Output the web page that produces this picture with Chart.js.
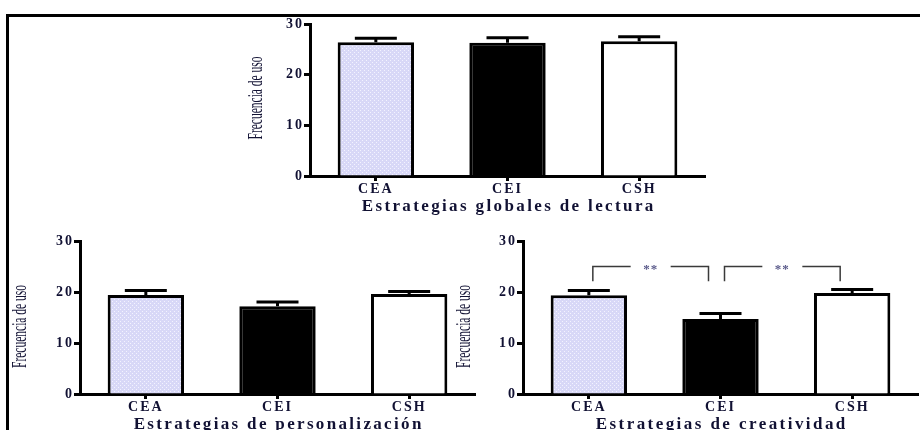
<!DOCTYPE html>
<html>
<head>
<meta charset="utf-8">
<script src="https://cdn.jsdelivr.net/npm/chart.js@4.4.1/dist/chart.umd.min.js"></script>
<style>
html, body { margin: 0; padding: 0; background: #fff; width: 920px; height: 430px; overflow: hidden; }
#frame { position: absolute; left: 6px; top: 14px; width: 920px; height: 430px; border-top: 3px solid #000; border-left: 3px solid #000; }
canvas { position: absolute; }
</style>
</head>
<body>
<div id="frame"></div>
<canvas id="globales" width="470" height="211" style="left:240px;top:14px"></canvas>
<canvas id="personal" width="480" height="205" style="left:0px;top:225px"></canvas>
<canvas id="creatividad" width="470" height="205" style="left:450px;top:225px"></canvas>
<script>
// data (mean and upper SEM)
const categories = ['CEA', 'CEI', 'CSH'];
const yTicks = [0, 10, 20, 30];

const globalesMeans = [26.4, 26.3, 26.6];
const globalesSem = [0.8, 1.0, 0.9];

const personalMeans = [19.4, 17.2, 19.6];
const personalSem = [0.9, 0.85, 0.5];

const creatividadMeans = [19.35, 14.7, 19.8];
const creatividadSem = [0.95, 1.1, 0.7];

// significance brackets: [from, to, label, line value, leg end value]
const creatividadSig = [[0, 1, '**', 25, 22.1], [1, 2, '**', 25, 22.1]];

const ink = '#111133';

function dots() {
	const c = document.createElement('canvas');
	c.width = 4; c.height = 4;
	const g = c.getContext('2d');
	g.fillStyle = '#d8d8f7';
	g.fillRect(0, 0, 4, 4);
	g.fillStyle = '#f3f3ff';
	g.fillRect(0, 0, 1, 1);
	g.fillRect(2, 2, 1, 1);
	return g.createPattern(c, 'repeat');
}

const panel = {
	id: 'panel',
	beforeDraw(chart) {
		chart.ctx.letterSpacing = '2px';
	},
	afterDatasetsDraw(chart) {
		// upper error bars
		const ctx = chart.ctx;
		const ds = chart.data.datasets[0];
		const y = chart.scales.y;
		ctx.save();
		ctx.strokeStyle = '#000';
		ctx.lineWidth = 3;
		chart.getDatasetMeta(0).data.forEach((bar, i) => {
			const top = y.getPixelForValue(ds.data[i] + ds.sem[i]);
			ctx.beginPath();
			ctx.moveTo(bar.x, bar.y);
			ctx.lineTo(bar.x, top);
			ctx.moveTo(bar.x - 21, top);
			ctx.lineTo(bar.x + 21, top);
			ctx.stroke();
		});
		ctx.restore();
	},
	afterDraw(chart, args, opts) {
		const ctx = chart.ctx;
		const area = chart.chartArea;
		const x = chart.scales.x;
		const y = chart.scales.y;
		ctx.save();
		ctx.fillStyle = ink;

		// y title, condensed
		ctx.letterSpacing = '0px';
		ctx.font = '22px "Liberation Serif"';
		const yw = ctx.measureText(opts.yTitle).width;
		ctx.save();
		ctx.translate(opts.yTitleX, (area.top + area.bottom) / 2 + opts.yTitleDy);
		ctx.rotate(-Math.PI / 2);
		ctx.scale(83 / yw, 1);
		ctx.textAlign = 'center';
		ctx.textBaseline = 'middle';
		ctx.fillText(opts.yTitle, 0, 0);
		ctx.restore();

		// x title, letter spaced
		ctx.font = 'bold 17px "Liberation Serif"';
		const w0 = ctx.measureText(opts.xTitle).width;
		const ls = (opts.xTitleWidth - w0) / opts.xTitle.length;
		ctx.letterSpacing = ls + 'px';
		ctx.textAlign = 'center';
		ctx.textBaseline = 'alphabetic';
		ctx.fillText(opts.xTitle, (area.left + area.right) / 2 + ls / 2, opts.xTitleY);

		// significance brackets
		(opts.brackets || []).forEach(b => {
			const x1 = x.getPixelForValue(b[0]) + 4;
			const x2 = x.getPixelForValue(b[1]) - 12;
			const yl = y.getPixelForValue(b[3]);
			const yd = y.getPixelForValue(b[4]);
			const mid = (x1 + x2) / 2;
			ctx.strokeStyle = '#3a3a3a';
			ctx.lineWidth = 1.5;
			ctx.beginPath();
			ctx.moveTo(x1, yd);
			ctx.lineTo(x1, yl);
			ctx.lineTo(mid - 20, yl);
			ctx.moveTo(mid + 20, yl);
			ctx.lineTo(x2, yl);
			ctx.lineTo(x2, yd);
			ctx.stroke();
			ctx.letterSpacing = '1px';
			ctx.font = 'bold 13px "Liberation Serif"';
			ctx.fillStyle = '#5a5a8a';
			ctx.textBaseline = 'middle';
			ctx.fillText(b[2], mid, yl + 3);
		});
		ctx.restore();
	}
};

function makeChart(id, means, sem, opts) {
	return new Chart(document.getElementById(id), {
		type: 'bar',
		data: {
			labels: categories,
			datasets: [{
				data: means,
				sem: sem,
				backgroundColor: [dots(), '#000', '#fff'],
				borderColor: '#000',
				borderWidth: 3,
				borderSkipped: 'bottom',
				categoryPercentage: 1,
				barPercentage: 0.58
			}]
		},
		options: {
			responsive: false,
			animation: false,
			events: [],
			layout: { padding: { top: opts.padTop, right: opts.padRight, left: 0, bottom: 0 } },
			plugins: {
				legend: { display: false },
				tooltip: { enabled: false },
				panel: opts.panel
			},
			scales: {
				x: {
					grid: { display: true, drawOnChartArea: false, offset: false, tickLength: 5, tickWidth: 3, tickColor: '#000' },
					border: { display: true, color: '#000', width: 3 },
					ticks: { color: ink, padding: 0, font: { family: '"Liberation Serif"', size: 14, weight: 'bold' } },
					afterFit: s => { s.height = opts.xHeight; }
				},
				y: {
					min: 0,
					max: 30,
					afterBuildTicks: s => { s.ticks = yTicks.map(v => ({ value: v })); },
					grid: { display: true, drawOnChartArea: false, tickLength: 6, tickWidth: 3, tickColor: '#000' },
					border: { display: true, color: '#000', width: 3 },
					ticks: { color: ink, padding: 0, font: { family: '"Liberation Serif"', size: 14, weight: 'bold' } },
					afterFit: s => { s.width = opts.yWidth; }
				}
			}
		},
		plugins: [panel]
	});
}

makeChart('globales', globalesMeans, globalesSem, {
	padTop: 10, padRight: 5, yWidth: 70, xHeight: 49,
	panel: { yTitle: 'Frecuencia de uso', yTitleX: 16, yTitleDy: -2, xTitle: 'Estrategias globales de lectura', xTitleWidth: 294, xTitleY: 197 }
});

makeChart('personal', personalMeans, personalSem, {
	padTop: 16, padRight: 5, yWidth: 80, xHeight: 36,
	panel: { yTitle: 'Frecuencia de uso', yTitleX: 20, yTitleDy: 9, xTitle: 'Estrategias de personalización', xTitleWidth: 290, xTitleY: 204 }
});

makeChart('creatividad', creatividadMeans, creatividadSem, {
	padTop: 16, padRight: 2, yWidth: 73, xHeight: 36,
	panel: { yTitle: 'Frecuencia de uso', yTitleX: 14, yTitleDy: 9, xTitle: 'Estrategias de creatividad', xTitleWidth: 252, xTitleY: 204, brackets: creatividadSig }
});
</script>
</body>
</html>
